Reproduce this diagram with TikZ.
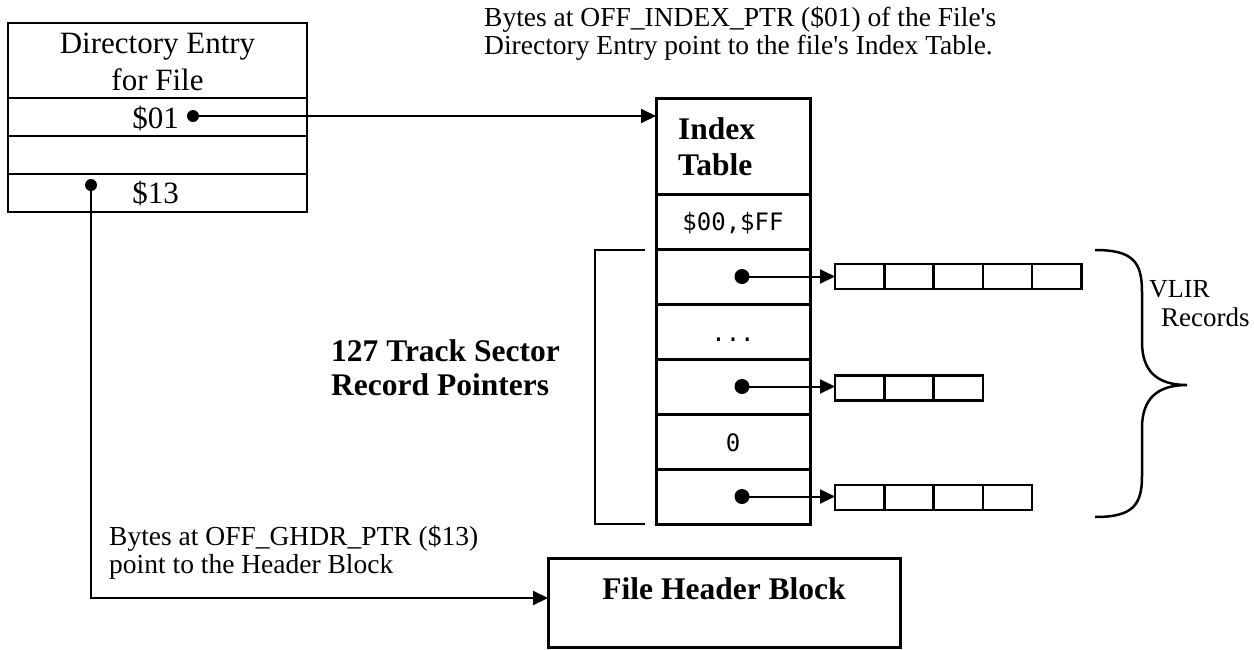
\documentclass[tikz,border=0pt]{standalone}
\usepackage{fontspec}
\setmainfont{Liberation Serif}
\newfontfamily\codefont{DejaVu Sans Mono}
\usetikzlibrary{arrows.meta}

\begin{document}
\begin{tikzpicture}[x=1pt,y=-1pt,
  cell/.style={draw,rectangle,inner sep=0pt,outer sep=0pt,line width=2.2pt},
  idxcell/.style={cell,line width=3pt,minimum width=154pt,minimum height=55pt},
  reccell/.style={cell,line width=2.5pt,minimum width=49.3pt,minimum height=25pt},
  dot/.style={circle,fill,inner sep=0pt,minimum size=#1},
  dot/.default=13pt,
  conn/.style={line width=2pt,-{Triangle[length=15pt,width=14pt]}},
  txt/.style={inner sep=0pt,anchor=base,font=\fontsize{31}{37}\selectfont},
  btxt/.style={txt,font=\fontsize{31.5}{37}\selectfont\bfseries},
  note/.style={inner sep=0pt,anchor=base west,font=\fontsize{27.5}{26}\selectfont},
  code/.style={inner sep=0pt,anchor=base,font=\fontsize{24}{28}\selectfont\codefont}]

\useasboundingbox (0,0) rectangle (1254,649);

% directory entry for the file
\node[cell,minimum width=299pt,minimum height=75pt] (dirhead) at (157.5,60.5) {};
\node[cell,minimum width=299pt,minimum height=38pt] (dir01) at (157.5,117) {};
\node[cell,minimum width=299pt,minimum height=38pt] (dirgap) at (157.5,155) {};
\node[cell,minimum width=299pt,minimum height=38pt] (dir13) at (157.5,193) {};
\node[txt] (dirt1) at (157.5,53) {Directory Entry};
\node[txt] (dirt2) at (157.5,90) {for File};
\node[txt] (off01) at (155.5,128) {\$01};
\node[txt] (off13) at (155.5,203) {\$13};
\node[dot=12pt] (p01) at (193,116) {};
\node[dot=12pt] (p13) at (91,185) {};

% index table
\node[idxcell,minimum height=96pt] (idxhead) at (733,146) {};
\node[idxcell] (idxff) at (733,221.5) {};
\node[idxcell] (idxr1) at (733,276.5) {};
\node[idxcell] (idxr2) at (733,331.5) {};
\node[idxcell] (idxr3) at (733,386.5) {};
\node[idxcell] (idxr4) at (733,441.5) {};
\node[idxcell] (idxr5) at (733,496.5) {};
\node[btxt,anchor=base west] (idxt1) at (678,139) {Index};
\node[btxt,anchor=base west] (idxt2) at (678,175) {Table};
\node[code] (ffval) at (733,230) {\$00,\$FF};
\node[code] (ellip) at (733,341) {...};
\node[code] (zero) at (733,451) {0};
\node[dot=15pt] (q1) at (742,276.5) {};
\node[dot=15pt] (q3) at (742,386.5) {};
\node[dot=15pt] (q5) at (742,496.5) {};

% VLIR records
\foreach \i in {1,...,5}
  \node[reccell] (ra\i) at ({835+49.3*(\i-0.5)},276.5) {};
\foreach \i in {1,...,3}
  \node[reccell] (rb\i) at ({835+49.3*(\i-0.5)},388) {};
\foreach \i in {1,...,4}
  \node[reccell] (rc\i) at ({835+49.3*(\i-0.5)},497.5) {};

% file header block
\node[cell,line width=3pt,minimum width=352pt,minimum height=89pt] (fhb) at (724,602.5) {};
\node[btxt] (fhbt) at (724,599) {File Header Block};

% pointers
\draw[conn] (p01.center) -- (idxhead.west |- p01);
\draw[conn] (q1.center) -- (ra1.west);
\draw[conn] (q3.center) -- (rb1.west |- q3);
\draw[conn] (q5.center) -- (rc1.west |- q5);
\coordinate (bend) at (91,598);
\draw[conn] (p13.center) -- (bend) -- (fhb.west |- bend);

% bracket around the record pointers
\coordinate (bt) at (645,250);
\coordinate (bb) at (645,524);
\draw[line width=2.5pt] (bt) -- (595,250) -- (595,524) -- (bb);
\node[btxt,anchor=base west] (rp1) at (331,361) {127 Track Sector};
\node[btxt,anchor=base west] (rp2) at (331,395) {Record Pointers};

% brace over the records
\coordinate (brtop) at (1095,250);
\coordinate (brtip) at (1187,385);
\coordinate (brbot) at (1095,517);
\draw[line width=2.5pt] (brtop) .. controls (1133,250) and (1142,262) .. (1142,292)
  -- (1142,342) .. controls (1142,372) and (1158,385) .. (brtip)
  .. controls (1158,385) and (1142,398) .. (1142,428)
  -- (1142,476) .. controls (1142,505) and (1133,517) .. (brbot);
\node[note,font=\fontsize{26}{26}\selectfont] (vl1) at (1149,297) {VLIR};
\node[note,font=\fontsize{27}{26}\selectfont] (vl2) at (1161,326) {Records};

% notes
\node[note] (n1) at (484,26) {Bytes at OFF\_INDEX\_PTR (\$01) of the File\textquotesingle s};
\node[note] (n2) at (484,54) {Directory Entry point to the file\textquotesingle s Index Table.};
\node[note] (n3) at (109,545) {Bytes at OFF\_GHDR\_PTR (\$13)};
\node[note] (n4) at (109,573) {point to the Header Block};
\end{tikzpicture}
\end{document}
